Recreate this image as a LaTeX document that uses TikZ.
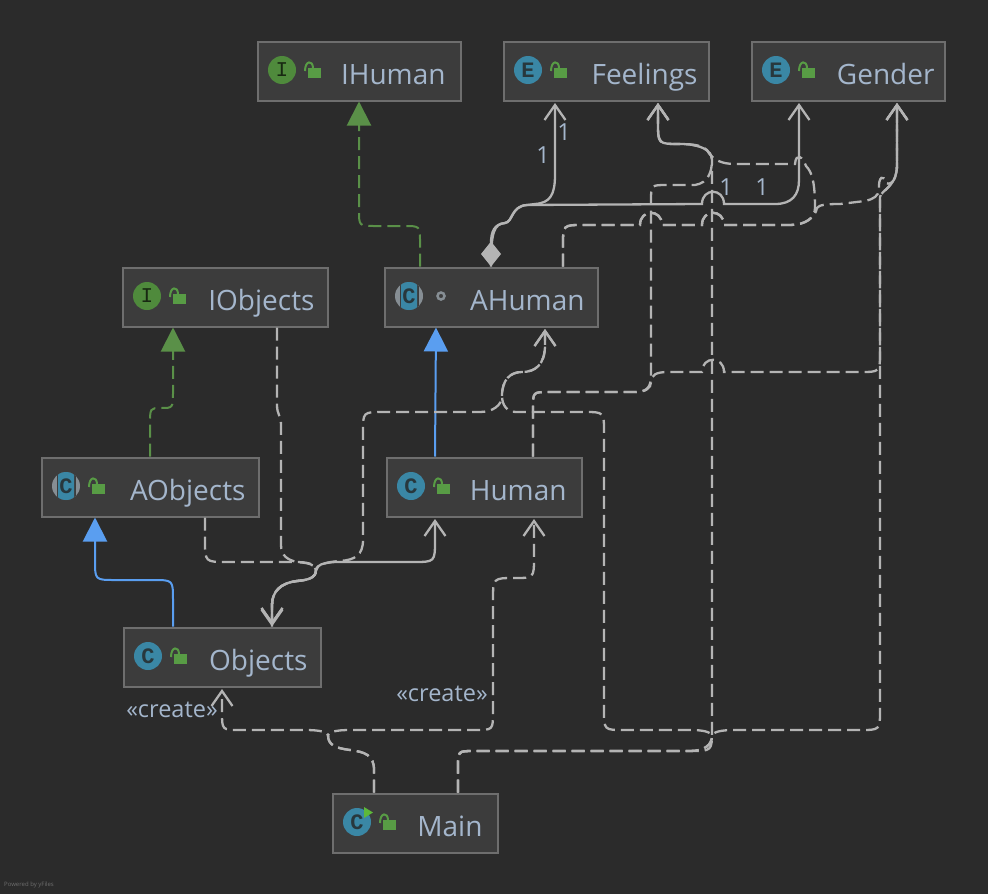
\documentclass[tikz,border=0pt]{standalone}
\usepackage{fontspec}
\setmainfont{Open Sans}
\newfontfamily\badgefont{Liberation Mono}[BoldFont={Liberation Mono Bold}]
\usepackage{xcolor}
\usetikzlibrary{arrows.meta,shapes.geometric}

\definecolor{bgdark}{HTML}{2B2B2B}
\definecolor{boxfill}{HTML}{3C3C3C}
\definecolor{boxline}{HTML}{6E6E6E}
\definecolor{nametext}{HTML}{A4B6CC}
\definecolor{linegray}{HTML}{B4B4B4}
\definecolor{ifacegreen}{HTML}{4F8A3C}
\definecolor{classteal}{HTML}{3A87A5}
\definecolor{abstractgray}{HTML}{868E94}
\definecolor{lockgreen}{HTML}{589C45}
\definecolor{runflag}{HTML}{5DB83A}
\definecolor{implblue}{HTML}{5A9EF0}
\definecolor{realgreen}{HTML}{5A9048}
\definecolor{badgedark}{HTML}{28383D}

\begin{document}
\begin{tikzpicture}[
    x=1pt, y=1pt,
    >={Straight Barb[length=15pt,width=21pt]},
    box/.style={rectangle, draw=boxline, fill=boxfill, line width=2pt, minimum height=59pt,
                inner xsep=13pt, inner ysep=0pt, align=right, text=nametext,
                text height=30pt, text depth=4pt, font=\fontsize{28}{32}\selectfont},
    badge/.style={circle, inner sep=0pt, minimum size=28pt, text=badgedark,
                  font=\fontsize{22}{22}\selectfont\badgefont\bfseries},
    faceletter/.style={badge, fill=ifacegreen, text=black!70!ifacegreen,
                  font=\fontsize{21}{21}\selectfont\badgefont},
    abstractbadge/.style={badge, fill=abstractgray, path picture={
        \fill[boxfill] ([xshift=-9.5pt]path picture bounding box.north) rectangle ([xshift=9.5pt]path picture bounding box.south);
        \fill[classteal, rounded corners=2pt] ([xshift=-8pt]path picture bounding box.north) rectangle ([xshift=8pt]path picture bounding box.south);}},
    lockicon/.pic={
        \fill[lockgreen] (26,2) rectangle (39,-8);
        \draw[lockgreen, line width=2pt] (23,-1) .. controls (23,10) and (31,10) .. (31,2);},
    countlabel/.style={text=nametext, inner sep=0pt, font=\fontsize{23.5}{26}\selectfont},
    dep/.style={->, draw=linegray, line width=2.3pt, dash pattern=on 13pt off 6pt, shorten >=1.5pt},
    assoc/.style={->, draw=linegray, line width=2.3pt, shorten >=1.5pt},
    realize/.style={-{Triangle[length=24pt,width=24pt,fill=realgreen]}, draw=realgreen, line width=2pt, dash pattern=on 13pt off 6pt},
    extend/.style={-{Triangle[length=24pt,width=24pt,fill=implblue]}, draw=implblue, line width=2pt},
    hop/.style={out=90, in=90, looseness=1.9}
]
\fill[bgdark] (0,0) rectangle (988,-894);
\useasboundingbox (0,0) rectangle (988,-894);

% Classes
\node[box, text width=177pt] (ihuman) at (359,-71) {IHuman\kern2pt};
\node[box, text width=179pt] (feelings) at (606,-71) {Feelings\kern-2pt};
\node[box, text width=167pt] (gender) at (848,-71) {Gender\kern-3pt};
\node[box, text width=179pt] (iobjects) at (225,-297) {IObjects};
\node[box, text width=187pt] (ahuman) at (491,-297) {AHuman};
\node[box, text width=191pt] (aobjects) at (150,-487) {AObjects};
\node[box, text width=169pt] (human) at (484,-487) {Human\kern2pt};
\node[box, text width=171pt] (objects) at (222,-657) {Objects};
\node[box, text width=139pt] (mainclass) at (415,-823) {Main\kern2pt};

% Badges
\node[faceletter] (ihumanicon) at (282,-70) {I};
\node[badge, fill=classteal] (feelingsicon) at (528,-70) {E};
\node[badge, fill=classteal] (gendericon) at (776,-70) {E};
\node[faceletter] (iobjectsicon) at (147,-296) {I};
\node[abstractbadge] (ahumanicon) at (409,-296) {C};
\node[abstractbadge] (aobjectsicon) at (66,-486) {C};
\node[badge, fill=classteal] (humanicon) at (411,-486) {C};
\node[badge, fill=classteal] (objectsicon) at (148,-656) {C};
\node[badge, fill=classteal] (mainicon) at (357,-822) {C};
\fill[runflag] (364,-807) -- (373,-812.5) -- (364,-818) -- cycle;

% Locks
\foreach \badgename in {ihumanicon,feelingsicon,gendericon,iobjectsicon,aobjectsicon,humanicon,objectsicon,mainicon}
    \pic at (\badgename) {lockicon};
\node[circle, draw=abstractgray, line width=2.5pt, minimum size=7pt, inner sep=0pt] (ahumandot) at (441,-296) {};

% Realize and extend
\draw[realize] ([xshift=-71pt]ahuman.north) -- (420,-242) .. controls (420,-226) .. (404,-226) -- (375,-226)
    .. controls (359,-226) .. (359,-210) -- (ihuman.south);
\draw[realize] (aobjects.north) -- (150,-425) .. controls (150,-408) .. (161,-408) .. controls (173,-408) .. (173,-392)
    -- ([xshift=-52pt]iobjects.south);
\draw[extend] ([xshift=-49pt]human.north) -- ([xshift=-55pt]ahuman.south);
\draw[extend] ([xshift=-49pt]objects.north) -- (173,-600) .. controls (173,-580) .. (153,-580) -- (115,-580)
    .. controls (95,-580) .. (95,-560) -- ([xshift=-55pt]aobjects.south);

% AHuman fields
\draw[assoc, {Diamond[length=25pt,width=20pt,fill=linegray]}->] (ahuman.north) .. controls (491,-232) and (494,-224) .. (505,-223)
    .. controls (513,-222) and (511,-206) .. (527,-205) -- (535,-204) .. controls (550,-203) and (555,-195) .. (555,-175)
    -- ([xshift=-51pt]feelings.south);
\draw[assoc] (ahuman.north) .. controls (491,-232) and (494,-224) .. (505,-223)
    .. controls (513,-222) and (511,-206) .. (527,-205) -- (702,-204) to[hop] (724,-204) -- (775,-204)
    .. controls (792,-204) and (799,-195) .. (799,-180) -- ([xshift=-49pt]gender.south);

% Multiplicities
\node[countlabel] (count1) at (543,-155) {1};
\node[countlabel] (count2) at (564,-132) {1};
\node[countlabel] (count3) at (726,-187) {1};
\node[countlabel] (count4) at (762,-187) {1};

% AHuman to enums
\draw[dep] ([xshift=72pt]ahuman.north) -- (563,-245) .. controls (563,-225) .. (583,-225) -- (640,-225) to[hop] (662,-225) -- (702,-225) to[hop] (724,-225) -- (790,-225)
    .. controls (805,-225) and (815,-218) .. (815,-208) .. controls (815,-182) and (812,-172) .. (806,-166)
    .. controls (803,-157) and (796,-152) .. (795,-164) -- (735,-164) .. controls (722,-164) and (712,-160) .. (707,-150)
    .. controls (703,-146) and (695,-144) .. (680,-144) .. controls (658,-144) .. (658,-122) -- ([xshift=52pt]feelings.south);
\draw[dep] ([xshift=72pt]ahuman.north) -- (563,-245) .. controls (563,-225) .. (583,-225) -- (640,-225) to[hop] (662,-225) -- (702,-225) to[hop] (724,-225) -- (790,-225)
    .. controls (805,-225) and (815,-218) .. (817,-208) .. controls (819,-205) and (825,-204) .. (840,-204)
    -- (865,-201) .. controls (874,-199) and (878,-196) .. (879,-190) .. controls (878,-176) and (884,-174) .. (886,-183)
    .. controls (892,-186) and (897,-178) .. (897,-165) -- ([xshift=49pt]gender.south);

% Human to enums
\draw[dep] ([xshift=49pt]human.north) -- (533,-408) .. controls (533,-392) .. (549,-392) -- (635,-392) .. controls (646,-392) and (651,-388) .. (651,-376)
    -- (651,-201) .. controls (651,-185) .. (667,-185) -- (695,-185) .. controls (708,-183) and (712,-172) .. (712,-160)
    .. controls (712,-150) and (700,-144) .. (680,-144) .. controls (658,-144) .. (658,-122) -- ([xshift=52pt]feelings.south);
\draw[dep] ([xshift=49pt]human.north) -- (533,-408) .. controls (533,-392) .. (549,-392) -- (635,-392) .. controls (646,-392) and (651,-388) .. (651,-382)
    .. controls (651,-375) and (656,-372) .. (668,-372) -- (702,-372) to[hop] (724,-372) -- (860,-372) .. controls (880,-372) .. (880,-352) -- (880,-197)
    .. controls (881,-190) and (897,-187) .. (897,-165) -- ([xshift=49pt]gender.south);

% Main to the right side
\draw[dep] ([xshift=43pt]mainclass.north) -- (458,-767) .. controls (458,-751) .. (474,-751) -- (690,-751) .. controls (712,-751) .. (712,-730) -- (712,-160)
    .. controls (712,-150) and (700,-144) .. (680,-144) .. controls (658,-144) .. (658,-122) -- ([xshift=52pt]feelings.south);
\draw[dep] ([xshift=43pt]mainclass.north) -- (458,-767) .. controls (458,-751) .. (474,-751) -- (690,-751) .. controls (704,-751) and (712,-745) .. (712,-736)
    .. controls (713,-732) and (720,-730) .. (735,-730) -- (860,-730) .. controls (880,-730) .. (880,-710) -- (880,-197)
    .. controls (881,-190) and (897,-187) .. (897,-165) -- ([xshift=49pt]gender.south);
\draw[dep] ([xshift=43pt]mainclass.north) -- (458,-767) .. controls (458,-751) .. (474,-751) -- (690,-751) .. controls (704,-751) and (712,-745) .. (712,-736)
    .. controls (711,-732) and (704,-730) .. (690,-730) -- (624,-730) .. controls (604,-730) .. (604,-710) -- (604,-432) .. controls (604,-412) .. (584,-412) -- (516,-412)
    .. controls (507,-412) and (502,-405) .. (502,-396) .. controls (502,-380) and (510,-372) .. (522,-372)
    .. controls (535,-372) and (545,-365) .. (545,-345) -- ([xshift=54pt]ahuman.south);

% Main to Objects and Human
\draw[dep] ([xshift=-41pt]mainclass.north) -- (374,-770) .. controls (374,-755) and (365,-752) .. (350,-750)
    .. controls (335,-748) and (328,-745) .. (328,-735) .. controls (327,-732) and (320,-730) .. (305,-730)
    -- (240,-730) .. controls (222,-730) .. (222,-712) -- (objects.south);
\draw[dep] ([xshift=-41pt]mainclass.north) -- (374,-770) .. controls (374,-755) and (365,-752) .. (350,-750)
    .. controls (335,-748) and (328,-745) .. (328,-735) .. controls (329,-732) and (336,-730) .. (350,-730)
    -- (475,-730) .. controls (493,-730) .. (493,-712) -- (493,-600) .. controls (493,-578) .. (515,-578) .. controls (534,-578) .. (534,-557) -- ([xshift=50pt]human.south);

% Into Objects
\draw[dep] ([xshift=55pt]aobjects.south) -- (205,-540) .. controls (205,-562) .. (227,-562) -- (295,-562) .. controls (308,-562) and (315,-564) .. (316,-570)
    .. controls (316,-578) and (308,-580) .. (297,-581) .. controls (280,-583) and (272,-592) .. (272,-605) -- ([xshift=50pt]objects.north);
\draw[dep] ([xshift=52pt]iobjects.south) -- (277,-405) .. controls (277,-415) and (281,-415) .. (281,-425) -- (281,-545)
    .. controls (281,-556) and (288,-560) .. (297,-562) .. controls (308,-563) and (315,-564) .. (316,-570)
    .. controls (316,-578) and (308,-580) .. (297,-581) .. controls (280,-583) and (272,-592) .. (272,-605) -- ([xshift=50pt]objects.north);
\draw[assoc, <->] ([xshift=50pt]objects.north) -- (272,-605) .. controls (272,-592) and (280,-583) .. (297,-581)
    .. controls (308,-580) and (316,-578) .. (316,-570) .. controls (317,-565) and (322,-563) .. (335,-562)
    -- (413,-562) .. controls (435,-562) .. (435,-540) -- ([xshift=-49pt]human.south);
\draw[dep] ([xshift=50pt]objects.north) -- (272,-605) .. controls (272,-592) and (280,-583) .. (297,-581)
    .. controls (308,-580) and (316,-578) .. (316,-570) .. controls (317,-565) and (325,-562) .. (340,-561)
    .. controls (355,-560) and (363,-555) .. (363,-540) -- (363,-432) .. controls (363,-412) .. (383,-412) -- (480,-412)
    .. controls (493,-412) and (502,-405) .. (502,-396) .. controls (502,-380) and (510,-372) .. (522,-372)
    .. controls (535,-372) and (545,-365) .. (545,-345) -- ([xshift=54pt]ahuman.south);

% Stereotypes
\node[countlabel] (createhuman) at (442,-694) {«create»};
\node[countlabel] (createobjects) at (172,-710) {«create»};

% Footer
\node[text=boxline, font=\fontsize{6}{7}\selectfont, anchor=west, inner sep=0pt] (poweredby) at (4,-885) {Powered by yFiles};

\end{tikzpicture}
\end{document}
